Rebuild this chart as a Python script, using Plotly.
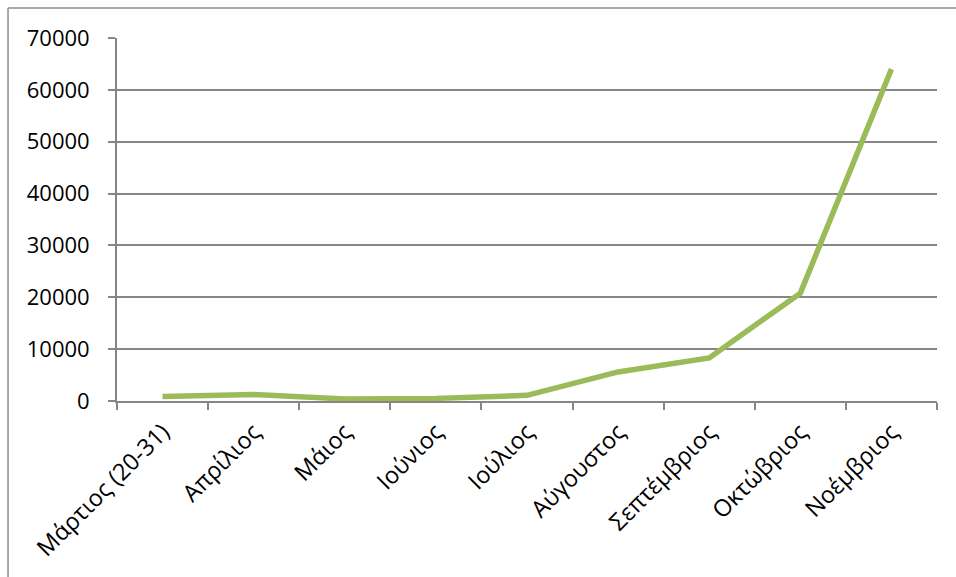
import plotly.graph_objects as go

months = ["Μάρτιος (20-31)", "Απρίλιος", "Μάιος", "Ιούνιος", "Ιούλιος",
          "Αύγουστος", "Σεπτέμβριος", "Οκτώβριος", "Νοέμβριος"]
cases = [850, 1250, 400, 500, 1100, 5600, 8300, 20800, 64000]
y_ticks = [0, 10000, 20000, 30000, 40000, 50000, 60000, 70000]

GRID = "#868686"
FONT = "Open Sans"

fig = go.Figure()
fig.add_trace(go.Scatter(
    x=months, y=cases, mode="lines",
    line=dict(color="#9BBB59", width=5.5),
    hoverinfo="skip", showlegend=False,
))

fig.update_layout(
    width=956, height=577,
    margin=dict(l=117, r=19, t=38, b=176),
    paper_bgcolor="white", plot_bgcolor="white",
    font=dict(family=FONT, size=22, color="black"),
    xaxis=dict(
        type="category", tickangle=-45, tickson="boundaries",
        range=[-0.5, len(months) - 0.5], automargin=False,
        ticks="outside", ticklen=7, tickcolor=GRID, tickwidth=1.8,
        showline=True, linecolor=GRID, linewidth=1.8,
        showgrid=False, zeroline=False, ticklabelstandoff=6,
        tickfont=dict(family=FONT, size=23.5),
    ),
    yaxis=dict(
        range=[0, 70000], tickvals=y_ticks, automargin=False,
        ticktext=[str(v) for v in y_ticks],
        ticks="outside", ticklen=7, tickcolor=GRID, tickwidth=1.8,
        showline=True, linecolor=GRID, linewidth=1.8,
        showgrid=True, gridcolor=GRID, gridwidth=1.8,
        zeroline=False, ticklabelstandoff=14,
        tickfont=dict(family=FONT, size=22),
    ),
    shapes=[
        dict(type="line", xref="paper", yref="paper",
             x0=-0.1329, x1=-0.1329, y0=-0.7, y1=1.0826,
             line=dict(color="#8C8C8C", width=1.5)),
        dict(type="line", xref="paper", yref="paper",
             x0=-0.1329, x1=1.1, y0=1.0826, y1=1.0826,
             line=dict(color="#8C8C8C", width=1.5)),
    ],
)

fig.write_html("out.html")
